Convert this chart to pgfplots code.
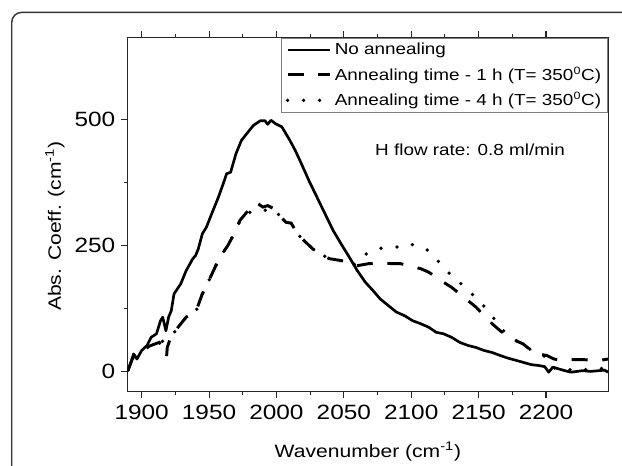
\documentclass[border=0pt]{standalone}
\usepackage{fontspec}
\setmainfont{Liberation Sans}[FakeStretch=1.18]
\usepackage{pgfplots}
\pgfplotsset{compat=1.18}
\newcommand{\chartfont}{\fontsize{12pt}{14pt}\selectfont}
\newcommand{\tickfont}{\fontsize{15.5pt}{18pt}\selectfont}
\newcommand{\labfont}{\fontsize{13.4pt}{16pt}\selectfont}

\pgfplotstableread{
x y
1889.7 2
1892 18
1894 35
1896.5 25
1900 42
1904 52
1907 68
1911 75
1914 101
1915.6 108
1918 81
1920 108
1922 121
1924 154
1929 174
1933 200
1938 224
1940 230
1942 243
1945 273
1948 286
1952 313
1957 346
1961 376
1963 392
1966 395
1970 432
1974 458
1979 475
1983 488
1988 497
1991.5 497
1993.5 490
1996 498
1999.4 491
2004 485
2010 458
2014 438
2018.5 412
2024 379
2030 346
2036 313
2042 280
2048 253
2054 227
2060 200
2066 177
2071.5 161
2077 144
2083 131
2089 118
2095 111
2101 101
2107 95
2113 88
2118.5 78
2124 75
2130 68
2136 58
2142 52
2148 48
2154 42
2160 38
2166 32
2171.5 27
2177 23
2183 18.5
2189 14
2195 12
2199 10
2202 -1
2205 9
2210 5
2214 2
2218.5 -1
2223 0.5
2227 2
2233 0.5
2239 2
2243.5 3
2246 -1
}\noanneal

\pgfplotstableread{
x y
1890 3
1893 25
1896.5 38
1900 45
1907 52
1913 58
1916 50
1918.5 30
1919 48
1921.5 68
1927 88
1933 108
1940.5 121
1945 154
1951 187
1958 227
1964 250
1968.5 273
1973 300
1979 319
1985 335
1990 326
1993.5 329
1998 323
2002 310
2007 296
2011 294
2015.6 273
2021.5 257
2027 243
2033 233
2039 224
2048 220
2053 217
2060 210
2068.5 214
2077 215
2086 214
2092 214
2098 210
2107 204
2113 197
2118.5 187
2124 177
2130 167
2136 154
2142 141
2148 128
2154 111
2160 95
2166 81
2171.5 71
2177 62
2183 55
2189 42
2195 35
2200.6 32
2206 25
2212.6 22
2218.5 24
2227 24
2233 23
2239 22
2246 25
}\onehour

\pgfplotstableread{
x y
1890 3
1893 25
1896.5 38
1900 44
1907 50
1913 57
1921.5 68
1927 88
1933 108
1940.5 121
1945 154
1951 187
1958 227
1964 250
1968.5 273
1973 300
1979 315
1985 318
1988 316
1995 323
1998 322
2002 310
2007 296
2011 294
2015.6 273
2021.5 257
2027 243
2033 233
2039 224
2048 220
2053 214
2057 210
2062.6 227
2068 235
2074 243
2083 247
2092 247
2098 253
2104 250
2111 243
2115.6 233
2121.5 214
2127 197
2133 187
2139 167
2145 154
2151 138
2157 121
2162.6 101
2168.5 81
2174 68
2180 58
2186 48
2192 38
2198 32
2201 25
2205 9
2210 3
2215.6 5
2221.5 2
2227 5
2233 3
2239 5
2246 9
}\fourhour

\begin{document}
\chartfont
\begin{tikzpicture}[font=\chartfont]
\draw[line width=1.1pt, black!80, rounded corners=7.5pt] (8.8pt,-30pt) rectangle (500pt,339.5pt);
\begin{axis}[
  at={(95.625pt,55pt)}, anchor=south west,
  scale only axis, width=360.6pt, height=265.5pt,
  xmin=1889.5, xmax=2246.2, ymin=-39.6, ymax=661.6,
  xtick={1900,1950,...,2200}, minor x tick num=1,
  ytick={0,250,500}, minor y tick num=1,
  xticklabels={1900,1950,2000,2050,2100,2150,2200},
  yticklabels={0,250,500},
  xticklabel style={font=\tickfont, yshift=-1pt},
  yticklabel style={font=\tickfont},
  xtick pos=both, ytick pos=left, tick align=outside,
  major tick length=5pt, minor tick length=2.5pt,
  axis line style={line width=0.8pt, black!85},
  every tick/.style={line width=0.8pt, black!85},
  xlabel={\labfont Wavenumber (cm\textsuperscript{-1})},
  ylabel={\labfont Abs. Coeff. (cm\textsuperscript{-1})},
  every axis x label/.style={at={(axis description cs:0.5,0)}, anchor=base, yshift=-49pt},
  every axis y label/.style={at={(axis description cs:-0.151,0.468)}, rotate=90, anchor=center},
  legend style={at={(rel axis cs:1,1)}, anchor=north east, draw=black!50, line width=0.8pt,
    font=\chartfont, inner xsep=3pt, inner ysep=1.5pt, row sep=3.5pt, cells={anchor=west}},
  legend image code/.code={\draw[#1] (0pt,0pt) -- (32pt,0pt);},
  clip=true,
]
\addplot[black, line width=2pt, line join=round] table {\noanneal};
\addlegendentry{No annealing}
\addplot[black, line width=2.2pt, dash pattern=on 12pt off 11pt] table {\onehour};
\addlegendentry{Annealing time - 1 h (T= 350\textsuperscript{0}C)}
\addplot[black, line width=2.8pt, line cap=round, dash pattern=on 0pt off 12pt] table {\fourhour};
\addlegendentry{Annealing time - 4 h (T= 350\textsuperscript{0}C)}
\node at (axis cs:2143.6,439) {H flow rate: 0.8 ml/min};
\end{axis}
\pgfresetboundingbox
\useasboundingbox (0pt,0pt) rectangle (466.5pt,348.75pt);
\end{tikzpicture}
\end{document}
